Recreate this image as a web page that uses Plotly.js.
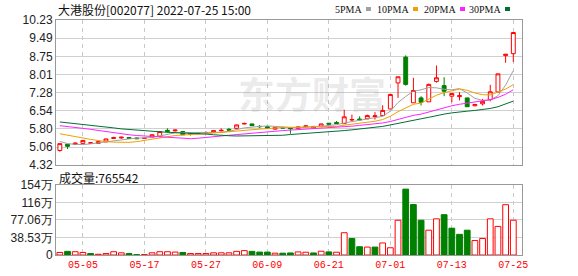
<!DOCTYPE html>
<html><head><meta charset="utf-8">
<script src="https://cdn.plot.ly/plotly-3.0.1.min.js"></script>
<style>html,body{margin:0;padding:0;background:#fff;}#chart{width:578px;height:276px;}</style>
</head><body><div id="chart"></div>
<script>
const dates = ['04-27','04-28','04-29','05-05','05-06','05-09','05-10','05-11','05-12','05-13',
'05-16','05-17','05-18','05-19','05-20','05-23','05-24','05-25','05-26','05-27',
'05-30','05-31','06-01','06-02','06-06','06-07','06-08','06-09','06-10','06-13',
'06-14','06-15','06-16','06-17','06-20','06-21','06-22','06-23','06-24','06-27',
'06-28','06-29','06-30','07-01','07-04','07-05','07-06','07-07','07-08','07-11',
'07-12','07-13','07-14','07-15','07-18','07-19','07-20','07-21','07-22','07-25'];
const openP = [4.92,5.17,5.17,5.21,5.22,5.21,5.27,5.41,5.43,5.45,
5.43,5.41,5.46,5.50,5.74,5.72,5.69,5.60,5.64,5.65,
5.66,5.72,5.78,5.82,6.00,6.00,5.90,5.89,5.79,5.84,
5.83,5.82,5.89,5.84,5.89,6.03,6.06,6.01,6.16,6.20,
6.21,6.30,6.34,6.61,7.67,8.72,6.86,7.06,6.90,7.73,
7.56,7.13,7.11,7.06,6.74,6.82,6.99,7.30,8.78,8.86];
const highP = [5.20,5.17,5.25,5.33,5.26,5.28,5.39,5.48,5.48,5.47,
5.45,5.44,5.58,5.70,5.82,5.77,5.71,5.62,5.66,5.70,
5.74,5.82,5.84,5.97,6.05,6.01,5.96,5.90,5.86,5.87,
5.84,5.89,5.94,5.91,6.01,6.04,6.12,6.58,6.38,6.31,
6.38,6.48,6.76,7.20,7.92,8.79,7.88,7.13,7.64,8.38,
7.90,7.24,7.29,7.06,6.82,7.02,7.59,8.04,8.84,9.72];
const lowP = [4.87,4.98,5.15,5.20,5.19,5.20,5.27,5.39,5.40,5.39,
5.39,5.39,5.45,5.45,5.65,5.69,5.55,5.53,5.58,5.62,
5.65,5.70,5.72,5.80,5.98,5.92,5.82,5.81,5.77,5.82,
5.60,5.80,5.87,5.83,5.88,5.96,6.00,6.00,6.11,6.13,
6.20,6.18,6.32,6.61,7.06,7.56,6.86,6.75,6.90,7.68,
7.13,6.88,6.96,6.70,6.72,6.75,6.92,7.29,8.49,8.52];
const closeP = [5.20,5.09,5.22,5.33,5.23,5.28,5.39,5.44,5.46,5.41,
5.40,5.42,5.56,5.69,5.70,5.75,5.56,5.58,5.62,5.65,
5.73,5.74,5.75,5.96,6.02,5.93,5.89,5.82,5.85,5.84,
5.81,5.88,5.92,5.90,6.00,5.99,6.01,6.29,6.18,6.17,
6.34,6.33,6.55,7.20,7.92,7.61,7.36,6.88,7.61,7.88,
7.33,7.24,7.15,6.70,6.79,6.92,7.31,8.04,8.84,9.72];
const volume = [56000,80000,72000,56000,32000,16000,32000,72000,48000,32000,
8000,8000,48000,72000,72000,64000,56000,32000,32000,32000,
48000,48000,48000,80000,96000,80000,64000,64000,40000,40000,
45000,68000,61000,45000,83000,68000,61000,490000,363000,182000,
174000,174000,265000,159000,765000,1450000,1110000,765000,546000,796000,
887000,590000,455000,546000,318000,364000,796000,629000,1107000,765542];
const ma5 = [5.29,5.20,5.17,5.16,5.19,5.23,5.29,5.34,5.37,5.39,
5.42,5.42,5.45,5.51,5.58,5.64,5.65,5.65,5.64,5.63,
5.63,5.66,5.70,5.77,5.84,5.87,5.91,5.92,5.90,5.87,
5.84,5.84,5.86,5.87,5.90,5.94,5.97,6.04,6.10,6.13,
6.20,6.26,6.31,6.52,6.87,7.12,7.33,7.39,7.48,7.47,
7.41,7.39,7.44,7.26,7.04,6.96,6.97,7.15,7.58,8.17];
const ma10 = [5.60,5.55,5.49,5.43,5.37,5.32,5.28,5.26,5.25,5.25,
5.28,5.33,5.39,5.44,5.48,5.53,5.55,5.56,5.58,5.60,
5.63,5.66,5.68,5.70,5.74,5.75,5.79,5.81,5.84,5.86,
5.86,5.88,5.89,5.89,5.89,5.89,5.90,5.95,5.99,6.02,
6.07,6.11,6.18,6.31,6.50,6.66,6.80,6.85,7.00,7.17,
7.27,7.36,7.42,7.37,7.26,7.19,7.18,7.30,7.42,7.60];
const ma20 = [5.93,5.90,5.86,5.82,5.78,5.73,5.69,5.64,5.60,5.56,
5.53,5.50,5.49,5.48,5.46,5.43,5.40,5.40,5.42,5.44,
5.47,5.51,5.54,5.57,5.61,5.64,5.67,5.69,5.71,5.73,
5.75,5.77,5.79,5.80,5.81,5.82,5.85,5.88,5.91,5.94,
5.97,6.00,6.04,6.10,6.19,6.28,6.35,6.40,6.49,6.59,
6.67,6.74,6.80,6.84,6.88,6.92,6.99,7.08,7.21,7.39];
const ma30 = [6.08,6.05,6.01,5.98,5.94,5.91,5.88,5.84,5.80,5.77,
5.75,5.72,5.69,5.68,5.66,5.65,5.64,5.63,5.61,5.59,
5.56,5.53,5.52,5.51,5.51,5.51,5.51,5.51,5.52,5.54,
5.57,5.59,5.62,5.64,5.66,5.69,5.71,5.73,5.76,5.79,
5.82,5.86,5.90,5.96,6.03,6.10,6.16,6.21,6.27,6.35,
6.40,6.45,6.50,6.52,6.55,6.58,6.63,6.70,6.80,6.93];
const dateTicks = ['05-05','05-17','05-27','06-09','06-21','07-01','07-13','07-25'];
const priceTicks = [4.32,5.06,5.80,6.54,7.28,8.01,8.75,9.49,10.23];
const priceTickText = ['4.32','5.06','5.80','6.54','7.28','8.01','8.75','9.49','10.23'];
const volTicks = [0,385300,770600,1155900,1541200];
const volTickText = ['0','38.53万','77.06万','116万','154万'];
const maNames = ['5PMA','10PMA','20PMA','30PMA'];
const maColors = ['#a0a0a0','#f0a000','#ff22ff','#006f34'];
const titleText = '大港股份[002077] 2022-07-25 15:00';
const volLabel = '成交量:765542';

const RED = '#ff0000', GREEN = '#008000';
const L = 56, R = 56, T = 20, B = 21, W = 578, H = 276;
const pw = W - L - R, ph = H - T - B;
const px = v => (v - L) / pw;
const py = v => (H - B - v) / ph;

const traces = [];
traces.push({
  type: 'candlestick', x: dates, open: openP, high: highP, low: lowP, close: closeP,
  xaxis: 'x', yaxis: 'y', hoverinfo: 'skip', showlegend: false, whiskerwidth: 0,
  increasing: {line: {color: RED, width: 1}, fillcolor: '#ffffff'},
  decreasing: {line: {color: GREEN, width: 1}, fillcolor: GREEN}
});
[ma5, ma10, ma20, ma30].forEach((m, k) => {
  traces.push({type: 'scatter', mode: 'lines', x: dates, y: m, xaxis: 'x', yaxis: 'y',
    line: {color: maColors[k], width: 1}, hoverinfo: 'skip', showlegend: false, name: maNames[k]});
});
const volUp = closeP.map((c, i) => i === 0 ? true : c >= closeP[i - 1]);
traces.push({
  type: 'bar', x: dates, y: volume, xaxis: 'x2', yaxis: 'y2', hoverinfo: 'skip', showlegend: false,
  marker: {color: volUp.map(u => u ? '#ffffff' : GREEN),
           line: {color: volUp.map(u => u ? RED : GREEN), width: 1}}
});

const gridV = {showgrid: true, gridcolor: '#c8c8c8', griddash: '4px,4px', gridwidth: 1};
const annotations = [
  {text: titleText, xref: 'paper', yref: 'paper', x: px(56), y: py(10), xanchor: 'left', yanchor: 'middle',
   showarrow: false, font: {family: 'Noto Sans CJK SC', size: 12, color: '#111'}},
  {text: volLabel, xref: 'paper', yref: 'paper', x: px(57), y: py(177), xanchor: 'left', yanchor: 'middle',
   showarrow: false, font: {family: 'Noto Sans CJK SC', size: 12, color: '#111'}},
  {text: '东方财富', xref: 'paper', yref: 'paper', x: px(312), y: py(93), xanchor: 'center', yanchor: 'middle',
   showarrow: false, font: {family: 'Noto Sans CJK SC', size: 37, color: 'rgba(150,150,150,0.2)', weight: 700}}
];
const sqX = [366, 413, 460, 505];
const shapes = [];
maNames.forEach((n, k) => {
  annotations.push({text: n, xref: 'paper', yref: 'paper', x: px(sqX[k] - 3), y: py(10), xanchor: 'right', yanchor: 'middle',
    showarrow: false, borderpad: 0, font: {family: 'Liberation Serif', size: 10, color: '#111'}});
  shapes.push({type: 'rect', xref: 'paper', yref: 'paper', x0: px(sqX[k]), x1: px(sqX[k] + 5), y0: py(11), y1: py(7),
    fillcolor: maColors[k], line: {width: 0}});
});

const layout = {
  width: W, height: H, margin: {l: L, r: R, t: T, b: B, pad: 0},
  paper_bgcolor: '#fff', plot_bgcolor: '#fff', showlegend: false,
  boxgap: 0.28, bargap: 0.25, dragmode: false,
  xaxis: Object.assign({type: 'category', range: [-0.5, 60.13], anchor: 'y', domain: [0, 1],
    tickvals: dateTicks, showticklabels: false, ticks: '', showline: true, mirror: true, linecolor: '#999',
    linewidth: 1, zeroline: false, rangeslider: {visible: false}, fixedrange: true}, gridV),
  yaxis: {domain: [0.382, 1], range: [4.32, 10.23], tickvals: priceTicks, ticktext: priceTickText,
    showgrid: true, gridcolor: '#d0d0d0', gridwidth: 1, showline: true, mirror: true, linecolor: '#999',
    ticks: '', zeroline: false, tickfont: {family: 'Liberation Sans', size: 12, color: '#222'}, fixedrange: true},
  xaxis2: Object.assign({type: 'category', range: [-0.5, 60.13], anchor: 'y2', domain: [0, 1], matches: 'x',
    tickvals: dateTicks, ticktext: dateTicks, ticks: '', showline: true, mirror: true, linecolor: '#999',
    zeroline: false, tickfont: {family: 'Liberation Mono', size: 10, color: '#ff0000'}, fixedrange: true}, gridV),
  yaxis2: {domain: [0, 0.298], range: [0, 1541200], tickvals: volTicks, ticktext: volTickText,
    showgrid: true, gridcolor: '#d0d0d0', showline: true, mirror: true, linecolor: '#999',
    ticks: '', zeroline: false, tickfont: {family: 'Liberation Sans', size: 12, color: '#222'}, fixedrange: true},
  annotations: annotations, shapes: shapes
};
Plotly.newPlot('chart', traces, layout, {staticPlot: true, displayModeBar: false});
</script></body></html>
